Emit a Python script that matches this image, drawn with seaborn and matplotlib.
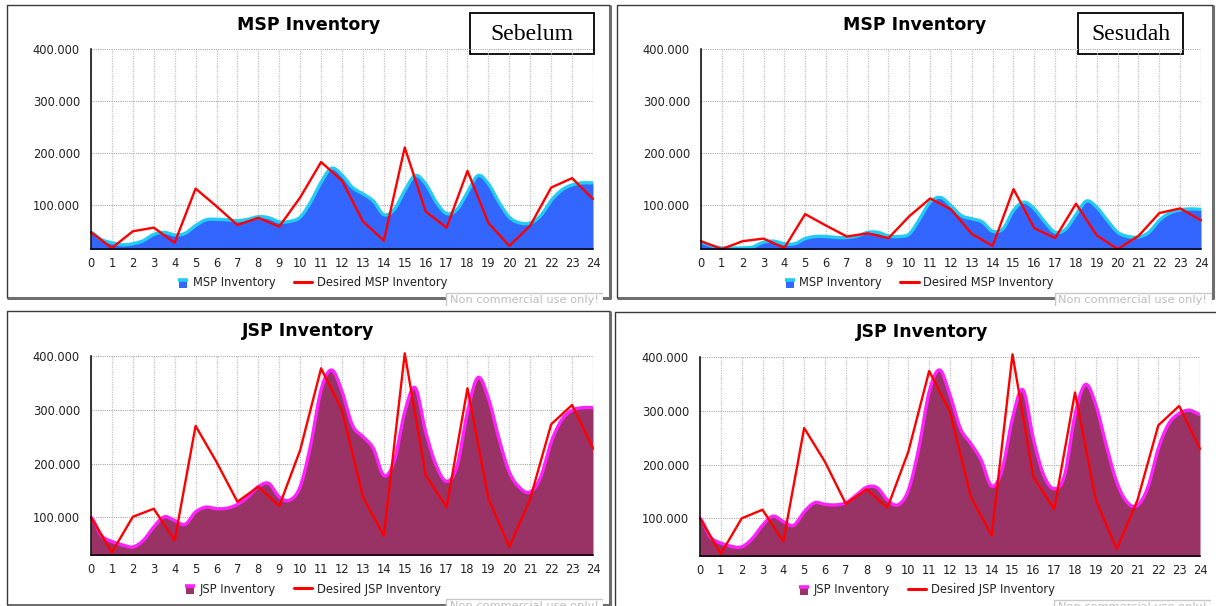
import numpy as np
import pandas as pd
import matplotlib
matplotlib.use("Agg")
import matplotlib.pyplot as plt
import seaborn as sns
from matplotlib.patches import Rectangle
from matplotlib.lines import Line2D
from matplotlib.legend_handler import HandlerBase
from matplotlib.ticker import FixedLocator, FuncFormatter

# ---------------- data ----------------
hours = list(range(25))
half_hours = [i * 0.5 for i in range(49)]

msp_before = [48, 34, 28, 24, 26, 32, 44, 48, 43, 46, 61, 72, 73, 72, 70, 73, 78, 76, 68, 69,
              77, 106, 144, 171, 158, 134, 122, 108, 82, 92, 128, 157, 141, 106, 84, 92, 125, 157,
              141, 106, 77, 66, 66, 80, 109, 129, 139, 143, 143]
msp_after = [29, 22, 18, 18, 18, 20, 29, 31, 26, 26, 36, 40, 40, 38, 38, 41, 48, 48, 41, 40,
             45, 74, 106, 115, 99, 80, 74, 68, 50, 55, 90, 106, 93, 68, 48, 54, 82, 108, 96, 71,
             48, 40, 39, 48, 71, 85, 91, 93, 92]
jsp_before = [100, 66, 55, 49, 45, 57, 82, 101, 94, 87, 110, 119, 116, 117, 124, 138, 157, 163,
              138, 132, 157, 234, 337, 374, 334, 271, 250, 228, 178, 205, 296, 341, 259, 197,
              167, 195, 296, 360, 321, 247, 184, 155, 147, 175, 240, 281, 299, 304, 304]
jsp_after = [100, 65, 54, 48, 47, 62, 87, 104, 94, 87, 112, 129, 126, 125, 129, 143, 158, 157,
             134, 125, 152, 230, 335, 376, 329, 267, 239, 208, 160, 190, 286, 339, 248, 180,
             155, 180, 292, 349, 311, 236, 168, 130, 124, 158, 230, 276, 295, 301, 293]

msp_desired_before = [48, 18, 50, 57, 28, 132, 98, 62, 76, 59, 115, 183, 147, 69, 32, 211, 88,
                      57, 166, 66, 22, 61, 134, 152, 112]
msp_desired_after = [31, 16, 31, 36, 18, 83, 61, 40, 46, 37, 79, 113, 92, 45, 22, 131, 56, 37,
                     103, 42, 16, 41, 85, 94, 71]
jsp_desired_before = [100, 35, 101, 116, 57, 270, 203, 129, 157, 121, 225, 377, 299, 138, 66,
                      405, 178, 119, 340, 135, 45, 135, 273, 309, 228]
jsp_desired_after = [100, 34, 100, 116, 57, 268, 205, 127, 154, 120, 224, 374, 298, 140, 68,
                     405, 177, 117, 334, 134, 43, 134, 273, 309, 229]

y_ticks = [100000, 200000, 300000, 400000]
titles = ["MSP Inventory", "MSP Inventory", "JSP Inventory", "JSP Inventory"]
labels_inv = ["MSP Inventory", "MSP Inventory", "JSP Inventory", "JSP Inventory"]
labels_des = ["Desired MSP Inventory", "Desired MSP Inventory",
              "Desired JSP Inventory", "Desired JSP Inventory"]
tags = ["Sebelum", "Sesudah", None, None]
watermark = "Non commercial use only!"

# ---------------- style ----------------
sns.set_theme(style="white")
plt.rcParams["font.family"] = ["DejaVu Sans"]

W, H = 1216, 606
fig = plt.figure(figsize=(W / 100, H / 100), dpi=100)
fig.patch.set_facecolor("white")


def fbox(l, t, r, b):
    return [l / W, 1 - b / H, (r - l) / W, (b - t) / H]


def smooth(x, y, n=10):
    x = np.asarray(x, float)
    y = np.asarray(y, float)
    P = np.concatenate([[y[0]], y, [y[-1]]])
    xs, ys = [], []
    t = np.linspace(0, 1, n, endpoint=False)
    for i in range(len(x) - 1):
        p0, p1, p2, p3 = P[i], P[i + 1], P[i + 2], P[i + 3]
        yy = 0.5 * (2 * p1 + (-p0 + p2) * t + (2 * p0 - 5 * p1 + 4 * p2 - p3) * t ** 2
                    + (-p0 + 3 * p1 - 3 * p2 + p3) * t ** 3)
        xs.append(x[i] + (x[i + 1] - x[i]) * t)
        ys.append(yy)
    xs.append([x[-1]])
    ys.append([y[-1]])
    return np.concatenate(xs), np.concatenate(ys)


class AreaHandler(HandlerBase):
    def __init__(self, face, edge):
        super().__init__()
        self.face = face
        self.edge = edge

    def create_artists(self, legend, orig_handle, xdescent, ydescent, width, height,
                       fontsize, trans):
        w = height * 1.25
        x0 = -xdescent + width - w
        y0 = -ydescent - height * 0.15
        r = Rectangle((x0 + w * 0.1, y0), w * 0.8, height * 0.95, facecolor=self.face,
                      edgecolor="none", transform=trans)
        ln = Line2D([x0, x0 + w], [y0 + height * 1.0, y0 + height * 1.0], color=self.edge,
                    lw=2.6, solid_capstyle="butt", transform=trans)
        return [r, ln]


panels = [
    dict(box=(7, 5, 610, 298), ax=(91, 49, 593, 249), ymin=16000,
         inv=msp_before, des=msp_desired_before, face="#3366FF", edge="#22CCF2",
         tagbox=(470, 13, 594, 54), wm=(445, 292, 603, 306)),
    dict(box=(617, 5, 1213, 298), ax=(701, 49, 1201, 249), ymin=16000,
         inv=msp_after, des=msp_desired_after, face="#3366FF", edge="#22CCF2",
         tagbox=(1078, 13, 1183, 54), wm=(1054, 292, 1212, 306)),
    dict(box=(7, 311, 610, 605), ax=(91, 356, 593, 555), ymin=30000,
         inv=jsp_before, des=jsp_desired_before, face="#993366", edge="#FF22FF",
         tagbox=None, wm=(445, 598, 603, 612)),
    dict(box=(615, 312, 1230, 612), ax=(700, 357, 1200, 556), ymin=30000,
         inv=jsp_after, des=jsp_desired_after, face="#993366", edge="#FF22FF",
         tagbox=None, wm=(1053, 599, 1211, 613)),
]

for k, p in enumerate(panels):
    l, t, r, b = p["box"]
    frame = fig.add_axes(fbox(0, 0, W, H), zorder=0)
    frame.set_xlim(0, W)
    frame.set_ylim(H, 0)
    frame.axis("off")
    frame.patch.set_alpha(0)
    frame.plot([l, r, r], [b, b, t], color="#6E6E6E", lw=2.2, solid_capstyle="butt")
    frame.plot([l, l, r], [b, t, t], color="#3A3A3A", lw=1.0, solid_capstyle="butt")
    cx = (l + r) / 2
    frame.text(cx, t + 20, titles[k], ha="center", va="center", fontsize=12.5,
               fontweight="bold", color="black")

    xs, ys = smooth(half_hours, np.array(p["inv"]) * 1000)
    df_inv = pd.DataFrame({"hour": xs, "value": ys})
    df_des = pd.DataFrame({"hour": hours, "value": np.array(p["des"]) * 1000})

    ax = fig.add_axes(fbox(*p["ax"]), zorder=2)
    ax.patch.set_alpha(0)
    ax.fill_between(df_inv["hour"], p["ymin"] - 5000, df_inv["value"], color=p["face"],
                    lw=0, zorder=2)
    sns.lineplot(data=df_inv, x="hour", y="value", ax=ax, color=p["edge"], lw=2.4,
                 zorder=3, estimator=None, sort=False)
    sns.lineplot(data=df_des, x="hour", y="value", ax=ax, color="#FF0000", lw=1.7,
                 zorder=4, estimator=None, sort=False, clip_on=False)
    ax.set_xlim(0, 24)
    ax.set_ylim(p["ymin"], 400000)
    ax.set_xlabel("")
    ax.set_ylabel("")
    ax.xaxis.set_major_locator(FixedLocator(hours))
    ax.yaxis.set_major_locator(FixedLocator(y_ticks))
    ax.yaxis.set_major_formatter(FuncFormatter(lambda v, pos: f"{v:,.0f}".replace(",", ".")))
    ax.tick_params(axis="both", labelsize=8.3, colors="#222222", direction="out", pad=2)
    ax.tick_params(axis="y", length=6, width=1.0)
    ax.tick_params(axis="x", length=4, width=1.0)
    for s in ["top", "right"]:
        ax.spines[s].set_visible(False)
    for s in ["left", "bottom"]:
        ax.spines[s].set_color("black")
        ax.spines[s].set_linewidth(1.1)
        ax.spines[s].set_zorder(5)
    ax.grid(True, which="major", axis="x", color="#C4C4C4", linestyle=(0, (1, 1)), lw=0.9)
    ax.grid(True, which="major", axis="y", color="#A8A8A8", linestyle=(0, (1, 1)), lw=0.8)
    ax.axvline(24, color="#C4C4C4", linestyle=(0, (1, 1)), lw=0.9, zorder=1)
    ax.set_axisbelow(True)

    handles = [Rectangle((0, 0), 1, 1), Line2D([], [], color="#FF0000", lw=2.2)]
    leg = ax.legend(handles, [labels_inv[k], labels_des[k]], ncol=2, frameon=False,
                    loc="center", bbox_to_anchor=((cx - p["ax"][0]) / (p["ax"][2] - p["ax"][0]),
                                                  -(t + 278 - p["ax"][3]) / (p["ax"][3] - p["ax"][1])),
                    fontsize=8.3, handlelength=1.6, handletextpad=0.4, columnspacing=1.6,
                    handler_map={Rectangle: AreaHandler(p["face"], p["edge"])})
    for txt in leg.get_texts():
        txt.set_color("#222222")

    if p["tagbox"] is not None:
        tl, tt, tr, tb = p["tagbox"]
        frame.add_patch(Rectangle((tl, tt), tr - tl, tb - tt, facecolor="white",
                                  edgecolor="black", lw=1.3, zorder=6))
        frame.text((tl + tr) / 2, (tt + tb) / 2 + 1, tags[k], ha="center", va="center",
                   fontsize=17, family="Liberation Serif", color="black", zorder=7)

    # watermark (partly hidden, as in the source chart)
    wl, wt, wr, wb = p["wm"]
    wax = fig.add_axes(fbox(wl, wt, wr, min(wb, H)), zorder=6)
    wax.set_xlim(0, wr - wl)
    wax.set_ylim(min(wb, H) - wt, 0)
    wax.axis("off")
    wax.add_patch(Rectangle((0.5, 0.5), wr - wl - 1, 40, facecolor="white",
                            edgecolor="#C8C8C8", lw=1.0))
    wax.text((wr - wl) / 2, 3, watermark, ha="center", va="top", fontsize=8.2,
             color="#BDBDBD", clip_on=True)

fig.savefig("out.png", dpi=100, facecolor="white")
